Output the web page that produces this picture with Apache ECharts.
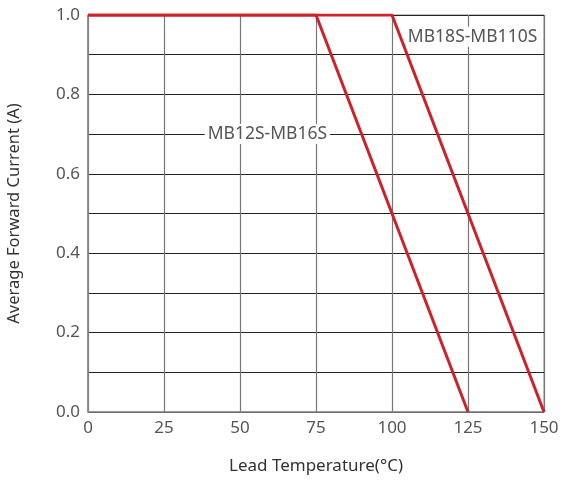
<!DOCTYPE html>
<html>
<head>
<meta charset="utf-8">
<script src="https://cdn.jsdelivr.net/npm/echarts@6/dist/echarts.min.js"></script>
<style>
  html, body { margin: 0; padding: 0; background: #fff; }
  #derateChart { width: 563px; height: 481px; }
</style>
</head>
<body>
<div id="derateChart"></div>
<script>
// derating curves, [lead temp °C, current A]
const mb12s = [[0, 1.0], [75, 1.0], [125, 0]]
const mb18s = [[0, 1.0], [100, 1.0], [150, 0]]
const names = ['MB12S-MB16S', 'MB18S-MB110S']
const namePoints = [[59, 0.7], [126.5, 0.945]]

const font = 'Noto Sans'
const red = '#cc2229'

const curve = (data, name, at) => ({
  name: name,
  type: 'line',
  data: data,
  symbol: 'none',
  lineStyle: { color: red, width: 3 },
  z: 5,
  markPoint: {
    symbol: 'rect',
    symbolSize: 0,
    data: [{ coord: at }],
    label: {
      show: true,
      position: 'inside',
      formatter: name,
      color: '#555',
      fontFamily: font,
      fontSize: 17.5,
      backgroundColor: '#fff',
      padding: [1, 3],
    },
  },
})

let myChart = echarts.init(document.getElementById('derateChart'))
let option = {
  animation: false,
  grid: {
    left: 88, right: 19, top: 15, bottom: 69,
    outerBoundsMode: 'none',
    containLabel: false,
    show: true, borderColor: '#888', borderWidth: 1,
  },
  xAxis: {
    type: 'value',
    min: 0,
    max: 150,
    interval: 25,
    name: 'Lead Temperature(°C)',
    nameLocation: 'middle',
    nameGap: 46,
    nameTextStyle: { color: '#333', fontFamily: font, fontSize: 17 },
    axisLine: { lineStyle: { color: '#888', width: 1.5 } },
    axisTick: { show: false },
    axisLabel: { color: '#555', fontFamily: font, fontSize: 17, margin: 8 },
    splitLine: { lineStyle: { color: '#777', width: 1.2 } },
  },
  yAxis: {
    type: 'value',
    min: 0,
    max: 1,
    interval: 0.1,
    name: 'Average Forward Current (A)',
    nameLocation: 'middle',
    nameGap: 65,
    nameTextStyle: { color: '#333', fontFamily: font, fontSize: 16.5 },
    axisLine: { show: true, lineStyle: { color: '#888', width: 1.5 } },
    axisTick: { show: false },
    axisLabel: {
      color: '#555',
      fontFamily: font,
      fontSize: 17,
      margin: 8,
      formatter: v => (Math.round(v * 10) % 2 === 0 ? v.toFixed(1) : ''),
    },
    splitLine: { lineStyle: { color: '#222', width: 1 } },
  },
  series: [
    curve(mb12s, names[0], namePoints[0]),
    curve(mb18s, names[1], namePoints[1]),
  ],
}
myChart.setOption(option)
</script>
</body>
</html>
